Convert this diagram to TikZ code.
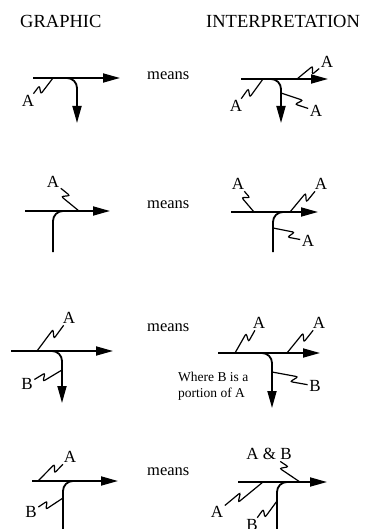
\documentclass[tikz,border=0pt]{standalone}
\usepackage{fontspec}
\setmainfont{Liberation Serif}
\usepackage{tikz}
\usetikzlibrary{arrows.meta}
\usetikzlibrary{calc}
\tikzset{
  flow/.style={line width=1.8pt, arrows={-Triangle[length=17pt, width=9pt]}},
  stem/.style={line width=1.8pt, rounded corners=10pt},
  squiggle/.style={line width=1.2pt, rounded corners=2pt,
    to path={-- ($(\tikztostart)!.58!(\tikztotarget)!3.5pt!90:(\tikztotarget)$)
      -- ($(\tikztostart)!.45!(\tikztotarget)!3.5pt!-90:(\tikztotarget)$)
      -- (\tikztotarget)}},
  lbl/.style={font=\fontsize{17}{17}\selectfont, inner sep=1.5pt},
  head/.style={font=\fontsize{18.5}{18.5}\selectfont, anchor=base west, inner sep=0pt},
  means/.style={font=\fontsize{16.5}{16.5}\selectfont, anchor=base west, inner sep=0pt},
  note/.style={font=\fontsize{13.5}{16}\selectfont, anchor=base west, inner sep=0pt}
}

\begin{document}
\begin{tikzpicture}[x=1pt, y=-1pt]
\useasboundingbox (0,0) rectangle (369,529);
\node [head] (graphic) at (20,28) {GRAPHIC};
\node [head] (interp) at (206,28) {INTERPRETATION};
\foreach \y/\n in {80/1, 208/2, 331/3, 475/4}
  \node [means] (means\n) at (147,\y) {means};

% first row
\draw [flow] (33,78) -- (120,78);
\draw [flow, stem] (60,78) -| (77,123);
\coordinate (g1a) at (53,78);
\node [lbl] (g1A) at (28,101) {A};
\draw [squiggle] (g1a) to (g1A);

\draw [flow] (241,79) -- (328,79);
\draw [flow, stem] (262,79) -| (281,123);
\coordinate (i1a) at (297,79);
\coordinate (i1b) at (263,79);
\coordinate (i1c) at (281,93);
\node [lbl] (i1A) at (327,62) {A};
\node [lbl] (i1B) at (236,106) {A};
\node [lbl] (i1C) at (316,111) {A};
\draw [squiggle] (i1a) to (i1A);
\draw [squiggle] (i1b) to (i1B);
\draw [squiggle] (i1c) to (i1C);

% second row
\draw [flow] (25,211) -- (110,211);
\draw [stem] (53,252) |- (80,211);
\coordinate (g2a) at (79,211);
\node [lbl] (g2A) at (53,182) {A};
\draw [squiggle] (g2a) to (g2A);

\draw [flow] (231,212) -- (318,212);
\draw [stem] (273,252) |- (295,212);
\coordinate (i2a) at (254,212);
\coordinate (i2b) at (290,212);
\coordinate (i2c) at (273,228);
\node [lbl] (i2A) at (238,184) {A};
\node [lbl] (i2B) at (321,184) {A};
\node [lbl] (i2C) at (308,241) {A};
\draw [squiggle] (i2a) to (i2A);
\draw [squiggle] (i2b) to (i2B);
\draw [squiggle] (i2c) to (i2C);

% third row
\draw [flow] (11,351) -- (113,351);
\draw [flow, stem] (45,351) -| (62,403);
\coordinate (g3a) at (37,351);
\coordinate (g3b) at (62,370);
\node [lbl] (g3A) at (69,318) {A};
\node [lbl] (g3B) at (27,384) {B};
\draw [squiggle] (g3a) to (g3A);
\draw [squiggle] (g3b) to (g3B);

\draw [flow] (218,353) -- (320,353);
\draw [flow, stem] (255,353) -| (272,408);
\coordinate (i3a) at (235,353);
\coordinate (i3b) at (287,353);
\coordinate (i3c) at (272,372);
\node [lbl] (i3A) at (259,323) {A};
\node [lbl] (i3B) at (319,323) {A};
\node [lbl] (i3C) at (315,386) {B};
\draw [squiggle] (i3a) to (i3A);
\draw [squiggle] (i3b) to (i3B);
\draw [squiggle] (i3c) to (i3C);
\node [note] (note1) at (178,381) {Where B is a};
\node [note] (note2) at (178,397) {portion of A};

% fourth row
\draw [flow] (32,481) -- (118,481);
\draw [stem] (63,535) |- (85,481);
\coordinate (g4a) at (38,481);
\coordinate (g4b) at (63,498);
\node [lbl] (g4A) at (70,457) {A};
\node [lbl] (g4B) at (31,512) {B};
\draw [squiggle] (g4a) to (g4A);
\draw [squiggle] (g4b) to (g4B);

\draw [flow] (238,482) -- (327,482);
\draw [stem] (277,535) |- (295,482);
\coordinate (i4a) at (300,482);
\coordinate (i4b) at (263,482);
\coordinate (i4c) at (277,501);
\node [lbl] (i4A) at (269,454) {A \& B};
\node [lbl] (i4B) at (217,512) {A};
\node [lbl] (i4C) at (252,525) {B};
\draw [squiggle] (i4a) to (i4A);
\draw [squiggle] (i4b) to (i4B);
\draw [squiggle] (i4c) to (i4C);
\end{tikzpicture}
\end{document}
